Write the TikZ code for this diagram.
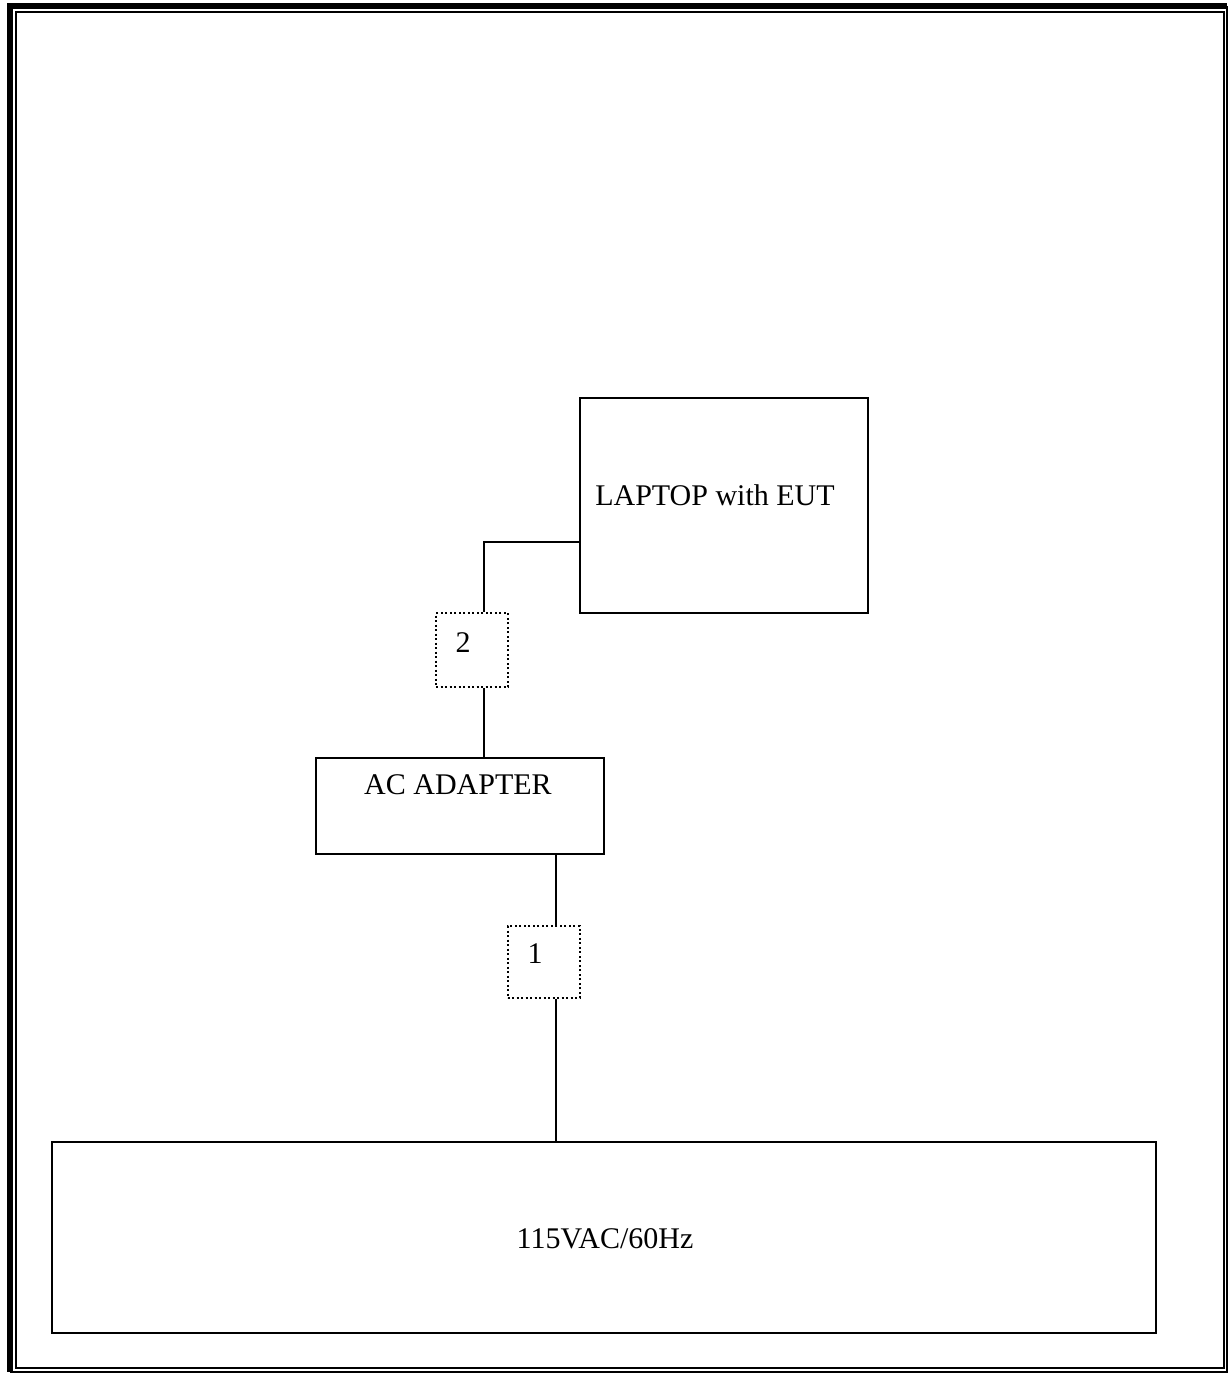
\documentclass[tikz,border=0pt]{standalone}
\usepackage{fontspec}
\setmainfont{Liberation Serif}
\usetikzlibrary{positioning}

\begin{document}
\begin{tikzpicture}[x=0.4pt, y=-0.4pt, font=\fontsize{12}{14}\selectfont,
  box/.style={draw, line width=0.8pt, inner sep=0pt},
  portbox/.style={draw, densely dotted, line width=0.8pt, inner sep=0pt,
    minimum width=28.8pt, minimum height=29.6pt},
  wire/.style={line width=0.8pt}]
\useasboundingbox (0,0) rectangle (1230,1374);
% page frame: thick outer on top/left, thin inner
\draw[line width=2.4pt] (1227,6) -- (9.7,6) -- (9.7,1372);
\draw[line width=0.8pt] (9.7,1372) -| (1227,6);
\draw[line width=0.8pt] (15.7,12) rectangle (1223.7,1368);
% units
\node[box, minimum width=115.2pt, minimum height=86pt] (laptop) at (724,505.5) {};
\node (laptoptxt) at (715,495) {LAPTOP with EUT};
\node[box, minimum width=115.2pt, minimum height=38.4pt] (adapter) at (460,806) {};
\node (adaptertxt) at (458,785) {AC ADAPTER};
\node[box, minimum width=441.6pt, minimum height=76.4pt] (mains) at (604,1237.5) {};
\node (mainstxt) at (605,1239) {115VAC/60Hz};
% cable ports
\node[portbox] (port2) at (472,650) {};
\node (port2txt) at (463,643) {2};
\node[portbox, minimum height=28.8pt] (port1) at (543.5,962) {};
\node (port1txt) at (535,954) {1};
% cables
\coordinate (lapin) at (580,542);
\coordinate (dcx) at (484,0);
\coordinate (acx) at (556,0);
\draw[wire] (port2.north -| dcx) |- (lapin);
\draw[wire] (port2.south -| dcx) -- (adapter.north -| dcx);
\draw[wire] (adapter.south -| acx) -- (port1.north -| acx);
\draw[wire] (port1.south -| acx) -- (mains.north -| acx);
\end{tikzpicture}
\end{document}
